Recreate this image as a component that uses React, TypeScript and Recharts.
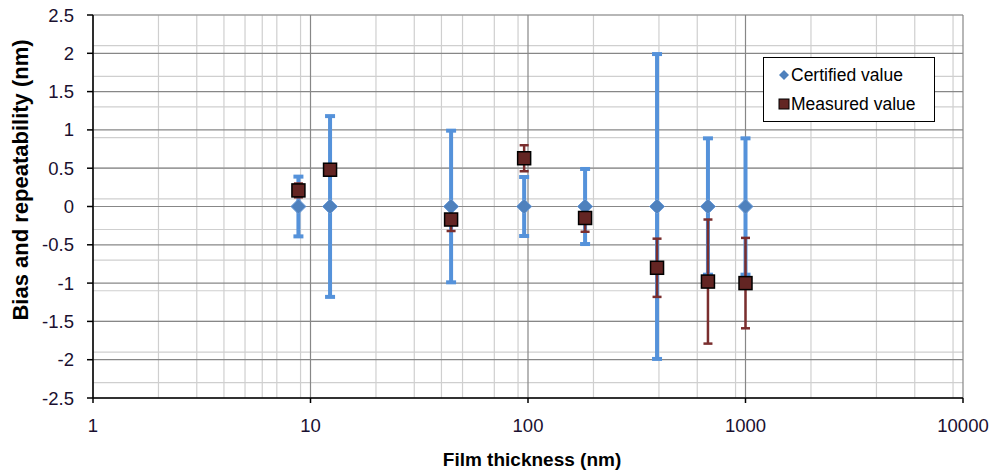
import React from 'react';
import { ScatterChart, Scatter, XAxis, YAxis, CartesianGrid, ErrorBar, Legend, Label } from 'recharts';

// film thickness (nm) for each sample
const thickness = [8.8, 12.3, 44.3, 96, 183, 392, 672, 1000];
// certified value is the reference, so its bias is zero
const certified = [0, 0, 0, 0, 0, 0, 0, 0];
const certifiedRange = [0.39, 1.18, 0.99, 0.385, 0.49, 1.99, 0.89, 0.89];
const measured = [0.21, 0.48, -0.17, 0.63, -0.15, -0.8, -0.98, -1.0];
const measuredRange = [0.09, 0.06, 0.15, 0.17, 0.18, 0.38, 0.81, 0.59];

const xTicks = [1, 10, 100, 1000, 10000];
const yTicks = [-2.5, -2, -1.5, -1, -0.5, 0, 0.5, 1, 1.5, 2, 2.5];

// grid lines: minor every 2..9 per decade, every 0.1 on y
const xMinor = xTicks.slice(0, -1).flatMap((d) => [2, 3, 4, 5, 6, 7, 8, 9].map((m) => m * d));
const yMinor = Array.from({ length: 51 }, (_, i) => Math.round((-2.5 + i * 0.1) * 10) / 10);

const certData = thickness.map((x, i) => ({ x, y: certified[i], err: certifiedRange[i] }));
const measData = thickness.map((x, i) => ({ x, y: measured[i], err: measuredRange[i] }));

const FONT = '"Liberation Sans", Arial, sans-serif';
const BLUE = '#4F81BD';
const BLUE_BAR = '#5592DA';
const RED = '#632523';
const RED_BAR = '#7A2E2E';

const Diamond = (p: any) => {
    const { cx, cy } = p;
    const r = 7.5;
    return (
        <polygon
            points={`${cx},${cy - r} ${cx + r},${cy} ${cx},${cy + r} ${cx - r},${cy}`}
            fill={BLUE}
            stroke="#6A9BD8"
            strokeWidth={1}
        />
    );
};

const Square = (p: any) => {
    const { cx, cy } = p;
    const s = 13;
    return <rect x={cx - s / 2} y={cy - s / 2} width={s} height={s} fill={RED} stroke="#000" strokeWidth={1.5} />;
};

const LegendBox = () => (
    <div
        style={{
            border: '1.5px solid #000',
            background: '#fff',
            width: 172,
            height: 65,
            fontFamily: FONT,
            fontSize: 17.5,
            color: '#000',
            boxSizing: 'border-box',
            paddingLeft: 14,
            paddingTop: 4,
        }}
    >
        <div style={{ display: 'flex', alignItems: 'center', height: 26 }}>
            <svg width={12} height={12} style={{ marginRight: 1 }}>
                <polygon points="6,1 11,6 6,11 1,6" fill={BLUE} />
            </svg>
            Certified value
        </div>
        <div style={{ display: 'flex', alignItems: 'center', height: 32 }}>
            <svg width={12} height={12} style={{ marginRight: 1 }}>
                <rect x={1} y={1} width={10} height={10} fill={RED} stroke="#000" strokeWidth={1} />
            </svg>
            Measured value
        </div>
    </div>
);

export default function App() {
    return (
        <div style={{ width: 990, height: 472, background: '#fff' }}>
            <style>{`body{margin:0;background:#fff}`}</style>
            <ScatterChart width={990} height={472} margin={{ top: 15, right: 27, left: 0, bottom: 0 }}>
                <CartesianGrid
                    stroke="#CFCFCF"
                    strokeWidth={1.2}
                    horizontalValues={yMinor}
                    verticalValues={xMinor}
                    fill="none"
                />
                <CartesianGrid
                    stroke="#878787"
                    strokeWidth={1.2}
                    horizontalValues={yTicks}
                    verticalValues={xTicks}
                    fill="none"
                />
                <XAxis
                    dataKey="x"
                    type="number"
                    scale="log"
                    domain={[1, 10000]}
                    ticks={xTicks}
                    allowDataOverflow
                    height={74}
                    axisLine={{ stroke: '#000', strokeWidth: 1.5 }}
                    tickLine={{ stroke: '#000', strokeWidth: 1.5 }}
                    tickSize={5}
                    tickMargin={16}
                    tick={{ fill: '#1a1030', fontFamily: FONT, fontSize: 18.5 }}
                >
                    <Label
                        content={() => (
                            <text x={532} y={466} textAnchor="middle" fontFamily={FONT} fontSize={19} fontWeight="bold" fill="#000">
                                Film thickness (nm)
                            </text>
                        )}
                    />
                </XAxis>
                <YAxis
                    dataKey="y"
                    type="number"
                    domain={[-2.5, 2.5]}
                    ticks={yTicks}
                    allowDataOverflow
                    width={93}
                    axisLine={{ stroke: '#000', strokeWidth: 1.5 }}
                    tickLine={{ stroke: '#000', strokeWidth: 1.5 }}
                    tickSize={6}
                    tickMargin={13}
                    tick={{ fill: '#1a1030', fontFamily: FONT, fontSize: 18.5 }}
                >
                    <Label
                        content={() => (
                            <text
                                x={28}
                                y={180}
                                transform="rotate(-90 28 180)"
                                textAnchor="middle"
                                fontFamily={FONT}
                                fontSize={22}
                                fontWeight="bold"
                                fill="#000"
                            >
                                Bias and repeatability (nm)
                            </text>
                        )}
                    />
                </YAxis>
                <Legend
                    layout="vertical"
                    align="center"
                    verticalAlign="middle"
                    wrapperStyle={{ left: 763, top: 57, width: 174, height: 67 }}
                    content={() => <LegendBox />}
                />
                <Scatter name="Certified value" data={certData} shape={Diamond} isAnimationActive={false}>
                    <ErrorBar dataKey="err" direction="y" width={5} strokeWidth={4} stroke={BLUE_BAR} />
                </Scatter>
                <Scatter name="Measured value" data={measData} shape={Square} isAnimationActive={false}>
                    <ErrorBar dataKey="err" direction="y" width={4.5} strokeWidth={2.5} stroke={RED_BAR} />
                </Scatter>
            </ScatterChart>
        </div>
    );
}
